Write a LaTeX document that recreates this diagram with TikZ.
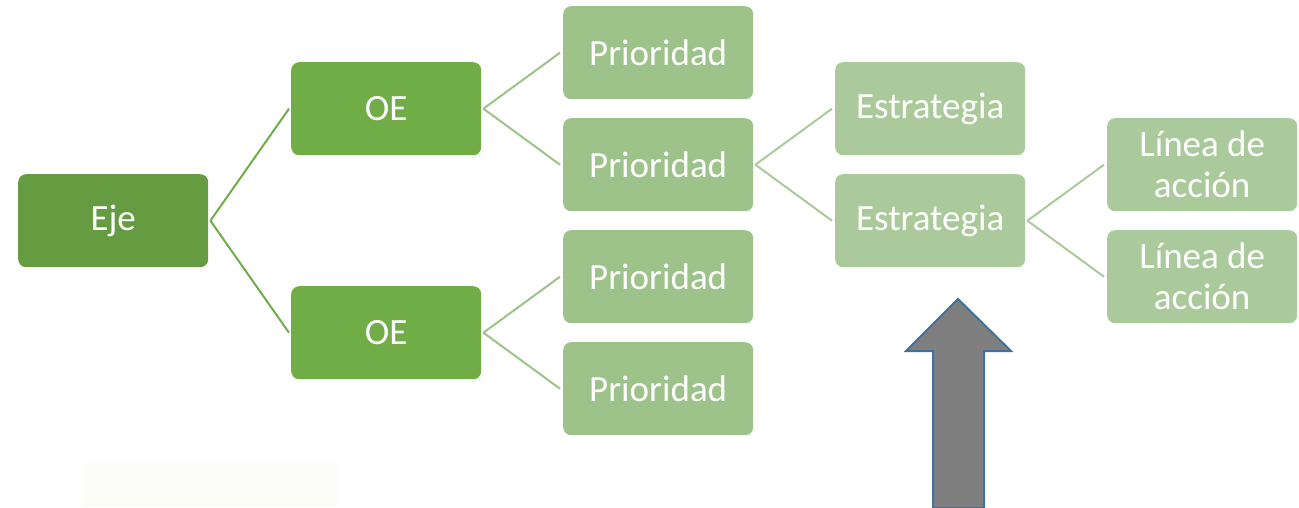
\documentclass[tikz,border=0pt]{standalone}
\usepackage{fontspec}
\setmainfont{Carlito}
\definecolor{cEje}{HTML}{659C41}
\definecolor{cOE}{HTML}{70AD47}
\definecolor{cPri}{HTML}{9DC28A}
\definecolor{cEst}{HTML}{ABCA9B}
\definecolor{cArrF}{HTML}{7F7F7F}
\definecolor{cArrD}{HTML}{41719C}
\begin{document}
\begin{tikzpicture}[x=1pt,y=-1pt,
  box/.style={rounded corners=8pt, minimum width=190pt, minimum height=93pt, inner sep=0pt,
    text=white, font=\fontsize{37}{41}\selectfont, align=center, anchor=north west},
  link/.style={line width=2pt}]
\useasboundingbox (0,0) rectangle (1299,507);
\fill[fill={rgb,255:red,252;green,253;blue,248}] (82,463) rectangle (337,507);
\node[box, fill=cEje] (eje) at (18,174) {Eje};
\node[box, fill=cOE] (oe1) at (291,62) {OE};
\node[box, fill=cOE] (oe2) at (291,286) {OE};
\node[box, fill=cPri] (p1) at (563,6) {Prioridad};
\node[box, fill=cPri] (p2) at (563,118) {Prioridad};
\node[box, fill=cPri] (p3) at (563,230) {Prioridad};
\node[box, fill=cPri] (p4) at (563,342) {Prioridad};
\node[box, fill=cEst] (e1) at (835,62) {Estrategia};
\node[box, fill=cEst] (e2) at (835,174) {Estrategia};
\node[box, fill=cEst] (l1) at (1107,118) {Línea de\\acción};
\node[box, fill=cEst] (l2) at (1107,230) {Línea de\\acción};
\draw[link, cOE] ([xshift=2pt]eje.east) -- ([xshift=-2pt]oe1.west);
\draw[link, cOE] ([xshift=2pt]eje.east) -- ([xshift=-2pt]oe2.west);
\draw[link, cPri] ([xshift=2pt]oe1.east) -- ([xshift=-3pt]p1.west);
\draw[link, cPri] ([xshift=2pt]oe1.east) -- ([xshift=-3pt]p2.west);
\draw[link, cPri] ([xshift=2pt]oe2.east) -- ([xshift=-3pt]p3.west);
\draw[link, cPri] ([xshift=2pt]oe2.east) -- ([xshift=-3pt]p4.west);
\draw[link, cEst] ([xshift=2pt]p2.east) -- ([xshift=-3pt]e1.west);
\draw[link, cEst] ([xshift=2pt]p2.east) -- ([xshift=-3pt]e2.west);
\draw[link, cEst] ([xshift=2pt]e2.east) -- ([xshift=-3pt]l1.west);
\draw[link, cEst] ([xshift=2pt]e2.east) -- ([xshift=-3pt]l2.west);
\draw[fill=cArrF, draw=cArrD, line width=2pt, line join=miter]
  (958,299) -- (1011,351) -- (984,351) -- (984,508) -- (933,508) -- (933,351) -- (906,351) -- cycle;
\end{tikzpicture}
\end{document}
